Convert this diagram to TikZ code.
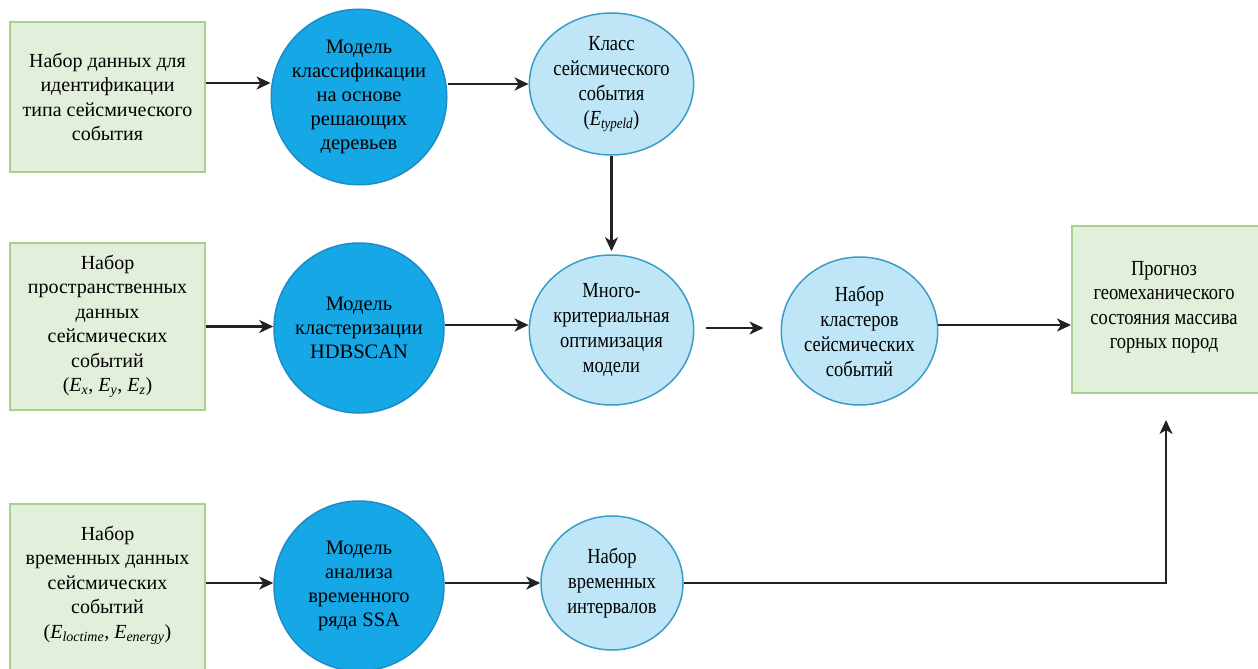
\documentclass[tikz,border=0pt]{standalone}
\usepackage{fontspec}
\setmainfont{Liberation Serif}
\newfontfamily\condfont{Liberation Serif}[FakeStretch=0.86]
\usetikzlibrary{arrows.meta,shapes.geometric}
\definecolor{boxfill}{HTML}{E2EFDA}
\definecolor{boxdraw}{HTML}{A9D18E}
\definecolor{darkfill}{HTML}{16A8E6}
\definecolor{darkdraw}{HTML}{1E8AC8}
\definecolor{lightfill}{HTML}{BFE6F6}
\definecolor{lightdraw}{HTML}{3A9CC8}
\definecolor{arrcol}{HTML}{222222}
\tikzset{
  databox/.style={rectangle, draw=boxdraw, fill=boxfill, line width=2pt, inner sep=0pt, align=center,
    font=\fontsize{20}{24.5}\selectfont},
  outbox/.style={rectangle, draw=boxdraw, fill=boxfill, line width=2pt, inner sep=0pt, align=center,
    font=\condfont\fontsize{21.5}{24.5}\selectfont},
  model/.style={circle, draw=darkdraw, fill=darkfill, line width=1.5pt, inner sep=0pt, minimum size=170pt, align=center,
    font=\fontsize{20.5}{24}\selectfont},
  result/.style={ellipse, draw=lightdraw, fill=lightfill, line width=1.5pt, inner sep=0pt, align=center,
    font=\condfont\fontsize{21.5}{25}\selectfont},
  arr/.style={draw=arrcol, line width=2.3pt, -{Stealth[length=14pt,width=13pt,inset=4pt]}}
}
\newcommand{\Ei}[1]{\textit{E}\textsubscript{\textit{#1}}}
\begin{document}
\begin{tikzpicture}[x=1pt,y=-1pt]
\useasboundingbox (0,0) rectangle (1258,669);
% data boxes
\node[databox, minimum width=195pt, minimum height=150pt] (b1) at (107.5,97) {Набор данных для\\идентификации\\типа сейсмического\\события};
\node[databox, minimum width=195pt, minimum height=167pt] (b2) at (107.5,326.5) {Набор\\пространственных\\данных\\сейсмических\\событий\\(\Ei{x}, \Ei{y}, \Ei{z})};
\node[databox, minimum width=195pt, minimum height=172pt, anchor=north] (b3) at (107.5,503) {};
\node[font=\fontsize{20}{24.5}\selectfont, align=center] (t3) at (107.5,585) {Набор\\временных данных\\сейсмических\\событий\\(\Ei{loctime}, \Ei{energy})};
% output box
\node[outbox, minimum width=190pt, minimum height=167pt, anchor=north west] (out) at (1071,225) {};
\node[font=\condfont\fontsize{21.5}{24.5}\selectfont, align=center] (tout) at (1164,307) {Прогноз\\геомеханического\\состояния массива\\горных пород};
% models
\node[model] (d1) at (359,97) {Модель\\классификации\\на основе\\решающих\\деревьев};
\node[model] (d2) at (359,328) {Модель\\кластеризации\\HDBSCAN};
\node[model] (d3) at (359,586) {Модель\\анализа\\временного\\ряда SSA};
% results
\node[result, minimum width=143pt, minimum height=142pt] (l1) at (611.5,84) {Класс\\сейсмического\\события\\(\Ei{typeld})};
\node[result, minimum width=143pt, minimum height=150pt] (e2) at (611.5,330) {Много-\\критериальная\\оптимизация\\модели};
\node[result, minimum width=145pt, minimum height=148pt] (e3) at (859.5,331) {Набор\\кластеров\\сейсмических\\событий};
\node[result, minimum width=142pt, minimum height=134pt] (e4) at (612,583) {Набор\\временных\\интервалов};
\coordinate (c1) at (1166,420);
% connectors
\draw[arr] ([yshift=14pt]b1.east) -- ([yshift=14pt]d1.west);
\draw[arr] (d1.east |- l1.west) -- (l1.west);
\draw[arr] (l1.south) -- ([yshift=3pt]e2.north);
\draw[arr] (b2.east) -- (b2.east -| d2.west);
\draw[arr] ([yshift=3pt]d2.east) -- ([yshift=3pt]d2.east -| e2.west);
\draw[arr] ([xshift=12pt,yshift=2pt]e2.east) -- ([xshift=-17pt,yshift=3pt]e3.west);
\draw[arr] ([yshift=6pt]e3.east) -- ([yshift=6pt]e3.east -| out.west);
\draw[arr] ([yshift=3pt]b3.east |- d3.west) -- ([yshift=3pt]d3.west);
\draw[arr] ([yshift=3pt]d3.east) -- ([yshift=3pt]d3.east -| e4.west);
\draw[arr] (e4.east) -| (c1);
\end{tikzpicture}
\end{document}
